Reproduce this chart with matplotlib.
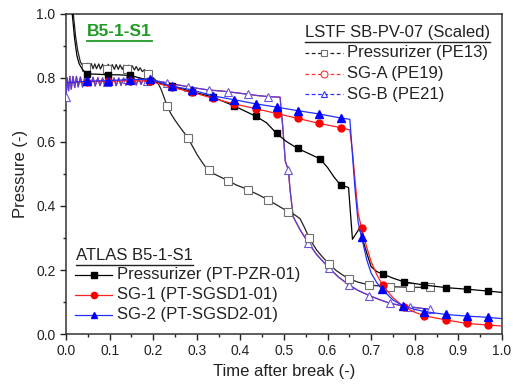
import numpy as np
import matplotlib
matplotlib.use("Agg")
import matplotlib.pyplot as plt
from matplotlib.lines import Line2D
from matplotlib.ticker import MultipleLocator

plt.rcParams['font.family'] = ['Liberation Sans', 'DejaVu Sans']

# ---------------- data (time after break (-), pressure (-)) ----------------
# LSTF SB-PV-07 (scaled) pressurizer
lstf_pzr_t = [0.000, 0.010, 0.017, 0.022, 0.027, 0.033, 0.040, 0.046, 0.050, 0.054, 0.058, 0.062,
              0.066, 0.070, 0.075, 0.079, 0.084, 0.088, 0.093, 0.097, 0.102, 0.106, 0.111, 0.115,
              0.120, 0.124, 0.129, 0.133, 0.139, 0.143, 0.148, 0.152, 0.157, 0.161, 0.166, 0.170,
              0.175, 0.180, 0.187, 0.195, 0.203, 0.210, 0.218, 0.226, 0.232, 0.240, 0.250, 0.262,
              0.272, 0.279, 0.288, 0.300, 0.312, 0.320, 0.327, 0.340, 0.355, 0.372, 0.390, 0.405,
              0.418, 0.440, 0.464, 0.480, 0.495, 0.510, 0.525, 0.537, 0.548, 0.558, 0.575, 0.590,
              0.604, 0.620, 0.635, 0.650, 0.670, 0.696, 0.720, 0.743, 0.765, 0.789, 0.810, 0.836]
lstf_pzr_p = [1.30, 1.10, 0.997, 0.930, 0.885, 0.850, 0.836, 0.835, 0.846, 0.830, 0.845, 0.829,
              0.844, 0.829, 0.844, 0.828, 0.843, 0.828, 0.828, 0.843, 0.827, 0.842, 0.827, 0.842,
              0.827, 0.841, 0.827, 0.840, 0.828, 0.840, 0.826, 0.838, 0.825, 0.836, 0.823, 0.832,
              0.820, 0.826, 0.8125, 0.806, 0.797, 0.786, 0.765, 0.735, 0.713, 0.690, 0.668, 0.645,
              0.627, 0.613, 0.592, 0.562, 0.537, 0.522, 0.5125, 0.500, 0.490, 0.479, 0.466, 0.458,
              0.450, 0.436, 0.419, 0.406, 0.394, 0.382, 0.372, 0.360, 0.330, 0.299, 0.262, 0.238,
              0.218, 0.198, 0.184, 0.172, 0.162, 0.153, 0.150, 0.148, 0.147, 0.146, 0.146, 0.146]
lstf_pzr_marks = [0.046, 0.093, 0.139, 0.187, 0.232, 0.279, 0.327, 0.372, 0.418, 0.464, 0.510,
                  0.558, 0.604, 0.650, 0.696, 0.743, 0.789, 0.836]

# LSTF SG-B (SG-A lies on the same curve)
lstf_sgb_t = [0.000, 0.003, 0.006, 0.009, 0.012, 0.016, 0.020, 0.024, 0.028, 0.033, 0.038, 0.043,
              0.046, 0.052, 0.056, 0.062, 0.067, 0.073, 0.078, 0.084, 0.089, 0.093, 0.099, 0.104,
              0.110, 0.115, 0.121, 0.126, 0.132, 0.137, 0.139, 0.145, 0.150, 0.156, 0.161, 0.167,
              0.172, 0.178, 0.183, 0.186, 0.200, 0.215, 0.232, 0.255, 0.279, 0.300, 0.327, 0.350,
              0.372, 0.395, 0.418, 0.440, 0.464, 0.491, 0.497, 0.503, 0.510, 0.514, 0.521, 0.537,
              0.556, 0.575, 0.604, 0.625, 0.649, 0.670, 0.696, 0.720, 0.743, 0.765, 0.789, 0.810,
              0.836]
lstf_sgb_p = [0.740, 0.800, 0.760, 0.805, 0.765, 0.805, 0.770, 0.805, 0.772, 0.803, 0.772, 0.802,
              0.790, 0.802, 0.775, 0.802, 0.775, 0.801, 0.776, 0.800, 0.776, 0.787, 0.800, 0.776,
              0.800, 0.776, 0.800, 0.777, 0.800, 0.778, 0.798, 0.800, 0.778, 0.800, 0.778, 0.799,
              0.780, 0.798, 0.785, 0.790, 0.792, 0.789, 0.785, 0.779, 0.773, 0.768, 0.7625, 0.760,
              0.757, 0.753, 0.749, 0.745, 0.742, 0.740, 0.650, 0.540, 0.5125, 0.450, 0.367, 0.325,
              0.285, 0.248, 0.205, 0.178, 0.153, 0.136, 0.120, 0.107, 0.096, 0.090, 0.085, 0.081,
              0.077]
lstf_sgb_marks = [0.000, 0.046, 0.093, 0.139, 0.186, 0.232, 0.279, 0.327, 0.372, 0.418, 0.464,
                  0.510, 0.556, 0.604, 0.649, 0.696, 0.743, 0.789, 0.836]
lstf_sga_t = lstf_sgb_t
lstf_sga_p = lstf_sgb_p

# ATLAS B5-1-S1 pressurizer
atlas_pzr_t = [0.000, 0.008, 0.015, 0.020, 0.025, 0.030, 0.038, 0.049, 0.070, 0.097, 0.120, 0.147,
               0.170, 0.193, 0.242, 0.290, 0.338, 0.386, 0.436, 0.460, 0.483, 0.505, 0.531, 0.555,
               0.583, 0.600, 0.615, 0.630, 0.648, 0.657, 0.673, 0.690, 0.700, 0.713, 0.726, 0.751,
               0.775, 0.822, 0.871, 0.919, 0.969, 1.000]
atlas_pzr_p = [1.30, 1.10, 0.990, 0.920, 0.870, 0.845, 0.826, 0.8125, 0.812, 0.810, 0.810, 0.808,
               0.800, 0.790, 0.775, 0.757, 0.740, 0.7125, 0.680, 0.660, 0.627, 0.602, 0.580, 0.565,
               0.547, 0.520, 0.490, 0.465, 0.458, 0.296, 0.330, 0.252, 0.210, 0.195, 0.1875, 0.174,
               0.163, 0.153, 0.145, 0.140, 0.134, 0.130]
atlas_pzr_marks = [0.049, 0.097, 0.147, 0.193, 0.242, 0.290, 0.338, 0.386, 0.436, 0.483, 0.531,
                   0.583, 0.630, 0.726, 0.775, 0.822, 0.871, 0.919, 0.969]

# ATLAS SG-1
atlas_sg1_t = [0.000, 0.049, 0.097, 0.147, 0.193, 0.242, 0.290, 0.338, 0.386, 0.436, 0.483, 0.531,
               0.581, 0.630, 0.651, 0.657, 0.663, 0.670, 0.678, 0.690, 0.700, 0.713, 0.726, 0.750,
               0.775, 0.800, 0.822, 0.871, 0.919, 0.969, 1.000]
atlas_sg1_p = [0.785, 0.788, 0.790, 0.792, 0.790, 0.771, 0.755, 0.736, 0.719, 0.704, 0.689, 0.674,
               0.658, 0.645, 0.6375, 0.570, 0.480, 0.377, 0.330, 0.270, 0.225, 0.185, 0.153, 0.113,
               0.085, 0.068, 0.057, 0.044, 0.033, 0.028, 0.025]
atlas_sg1_marks = [0.049, 0.097, 0.147, 0.193, 0.242, 0.290, 0.338, 0.386, 0.436, 0.483, 0.531,
                   0.581, 0.630, 0.678, 0.726, 0.775, 0.822, 0.871, 0.919, 0.969]

# ATLAS SG-2
atlas_sg2_t = [0.000, 0.049, 0.097, 0.147, 0.193, 0.242, 0.290, 0.338, 0.386, 0.436, 0.483, 0.531,
               0.581, 0.630, 0.651, 0.657, 0.663, 0.670, 0.678, 0.690, 0.700, 0.713, 0.725, 0.750,
               0.774, 0.800, 0.822, 0.871, 0.919, 0.969, 1.000]
atlas_sg2_p = [0.785, 0.790, 0.792, 0.795, 0.796, 0.775, 0.7625, 0.744, 0.732, 0.719, 0.709, 0.698,
               0.6875, 0.675, 0.671, 0.560, 0.450, 0.350, 0.302, 0.231, 0.190, 0.160, 0.140, 0.106,
               0.0875, 0.077, 0.070, 0.061, 0.056, 0.052, 0.048]
atlas_sg2_marks = [0.049, 0.097, 0.147, 0.193, 0.242, 0.290, 0.338, 0.386, 0.436, 0.483, 0.531,
                   0.581, 0.630, 0.678, 0.725, 0.774, 0.822, 0.871, 0.919, 0.969]

x_ticks = [0.0, 0.1, 0.2, 0.3, 0.4, 0.5, 0.6, 0.7, 0.8, 0.9, 1.0]
y_ticks = [0.0, 0.2, 0.4, 0.6, 0.8, 1.0]

lstf_labels = ['Pressurizer (PE13)', 'SG-A (PE19)', 'SG-B (PE21)']
atlas_labels = ['Pressurizer (PT-PZR-01)', 'SG-1 (PT-SGSD1-01)', 'SG-2 (PT-SGSD2-01)']

# ---------------- figure ----------------
W, H = 513, 385
fig = plt.figure(figsize=(W / 100, H / 100), dpi=100)
ax = fig.add_axes([66 / W, 1 - 334 / H, (502 - 66) / W, (334 - 14) / H])


def idx(ts, marks):
    return [i for i, t in enumerate(ts) if t in marks]


SGB_COL = '#5a40d4'
ax.plot(lstf_sga_t, lstf_sga_p, color='#e03050', lw=0.9, zorder=2)
ax.plot(lstf_sgb_t, lstf_sgb_p, color=SGB_COL, lw=0.9, marker='^', ms=6,
        mfc='white', mec='#6a55d8', mew=0.8, markevery=idx(lstf_sgb_t, lstf_sgb_marks), zorder=3)
ax.plot(lstf_pzr_t, lstf_pzr_p, color='#222222', lw=0.9, marker='s', ms=5.5,
        mfc='white', mec='#707070', mew=0.8, markevery=idx(lstf_pzr_t, lstf_pzr_marks), zorder=3)

ax.plot(atlas_pzr_t, atlas_pzr_p, color='black', lw=0.9, marker='s', ms=4.5,
        mfc='black', mec='black', markevery=idx(atlas_pzr_t, atlas_pzr_marks), zorder=4)
ax.plot(atlas_sg1_t, atlas_sg1_p, color='#ff2020', lw=0.9, marker='o', ms=5,
        mfc='#ff0000', mec='#ff0000', markevery=idx(atlas_sg1_t, atlas_sg1_marks), zorder=4)
ax.plot(atlas_sg2_t, atlas_sg2_p, color='#2030ff', lw=0.9, marker='^', ms=5.5,
        mfc='#0000ff', mec='#0000ff', markevery=idx(atlas_sg2_t, atlas_sg2_marks), zorder=5)

ax.set_xlim(0, 1.0)
ax.set_ylim(0, 1.0)
ax.set_xticks(x_ticks)
ax.set_xticklabels([f'{v:.1f}' for v in x_ticks])
ax.set_yticks(y_ticks)
ax.set_yticklabels([f'{v:.1f}' for v in y_ticks])
ax.xaxis.set_minor_locator(MultipleLocator(0.05))
ax.yaxis.set_minor_locator(MultipleLocator(0.1))
ax.tick_params(which='major', direction='out', length=4, width=1.0, labelsize=10, colors='#222222')
ax.tick_params(which='minor', direction='out', length=2.5, width=1.0, colors='#222222')
ax.tick_params(top=False, right=False)
for s in ax.spines.values():
    s.set_color('#333333')
    s.set_linewidth(1.1)

ax.set_xlabel('Time after break (-)', fontsize=12, labelpad=4, color='#222222')
ax.set_ylabel('Pressure (-)', fontsize=12, labelpad=6, color='#222222')


# ---------------- manual legends / annotations (pixel positions) ----------------
def fp(x, y):
    return (x / W, 1 - y / H)


def underline_text(txt, dy_px, color, lw=1.0):
    fig.canvas.draw()
    bb = txt.get_window_extent()
    y = bb.y0 - dy_px
    fig.add_artist(Line2D([bb.x0 / W, bb.x1 / W], [y / H, y / H], transform=fig.transFigure,
                          color=color, lw=lw))


GREEN = '#1f9a24'
t0 = fig.text(*fp(87, 32), 'B5-1-S1', fontsize=12.5, fontweight='bold', color=GREEN,
              ha='left', va='center')
underline_text(t0, 1.5, GREEN, 1.3)

# LSTF legend
t1 = fig.text(*fp(305, 33), 'LSTF SB-PV-07 (Scaled)', fontsize=12, ha='left', va='center',
              color='#222222')
underline_text(t1, 1.5, '#222222', 1.0)
lstf_styles = [('#222222', 's', '#707070'), ('#ff3030', 'o', '#ff3030'), ('#3030ff', '^', '#3030ff')]
for k, (lab, (lc, mk, mc)) in enumerate(zip(lstf_labels, lstf_styles)):
    y = 53 + k * 20.5
    x0, y0 = fp(305, y)
    x1, _ = fp(343, y)
    fig.add_artist(Line2D([x0, x1], [y0, y0], transform=fig.transFigure, color=lc, lw=0.9,
                          ls=(0, (3, 2))))
    fig.add_artist(Line2D([(x0 + x1) / 2], [y0], transform=fig.transFigure, color=lc, lw=0,
                          marker=mk, ms=5, mfc='white', mec=mc, mew=0.8))
    fig.text(*fp(347, y), lab, fontsize=12, ha='left', va='center', color='#222222')

# ATLAS legend
t2 = fig.text(*fp(76, 256), 'ATLAS B5-1-S1', fontsize=12, ha='left', va='center', color='#222222')
underline_text(t2, 1.5, '#222222', 1.0)
atlas_styles = [('black', 's', 'black'), ('#ff2020', 'o', '#ff0000'), ('#2030ff', '^', '#0000ff')]
for k, (lab, (lc, mk, mc)) in enumerate(zip(atlas_labels, atlas_styles)):
    y = 275 + k * 20
    x0, y0 = fp(75, y)
    x1, _ = fp(112, y)
    fig.add_artist(Line2D([x0, x1], [y0, y0], transform=fig.transFigure, color=lc, lw=0.9))
    fig.add_artist(Line2D([(x0 + x1) / 2], [y0], transform=fig.transFigure, color=lc, lw=0,
                          marker=mk, ms=4.5, mfc=mc, mec=mc))
    fig.text(*fp(117, y), lab, fontsize=12, ha='left', va='center', color='#222222')

fig.savefig('out.png', dpi=100)
